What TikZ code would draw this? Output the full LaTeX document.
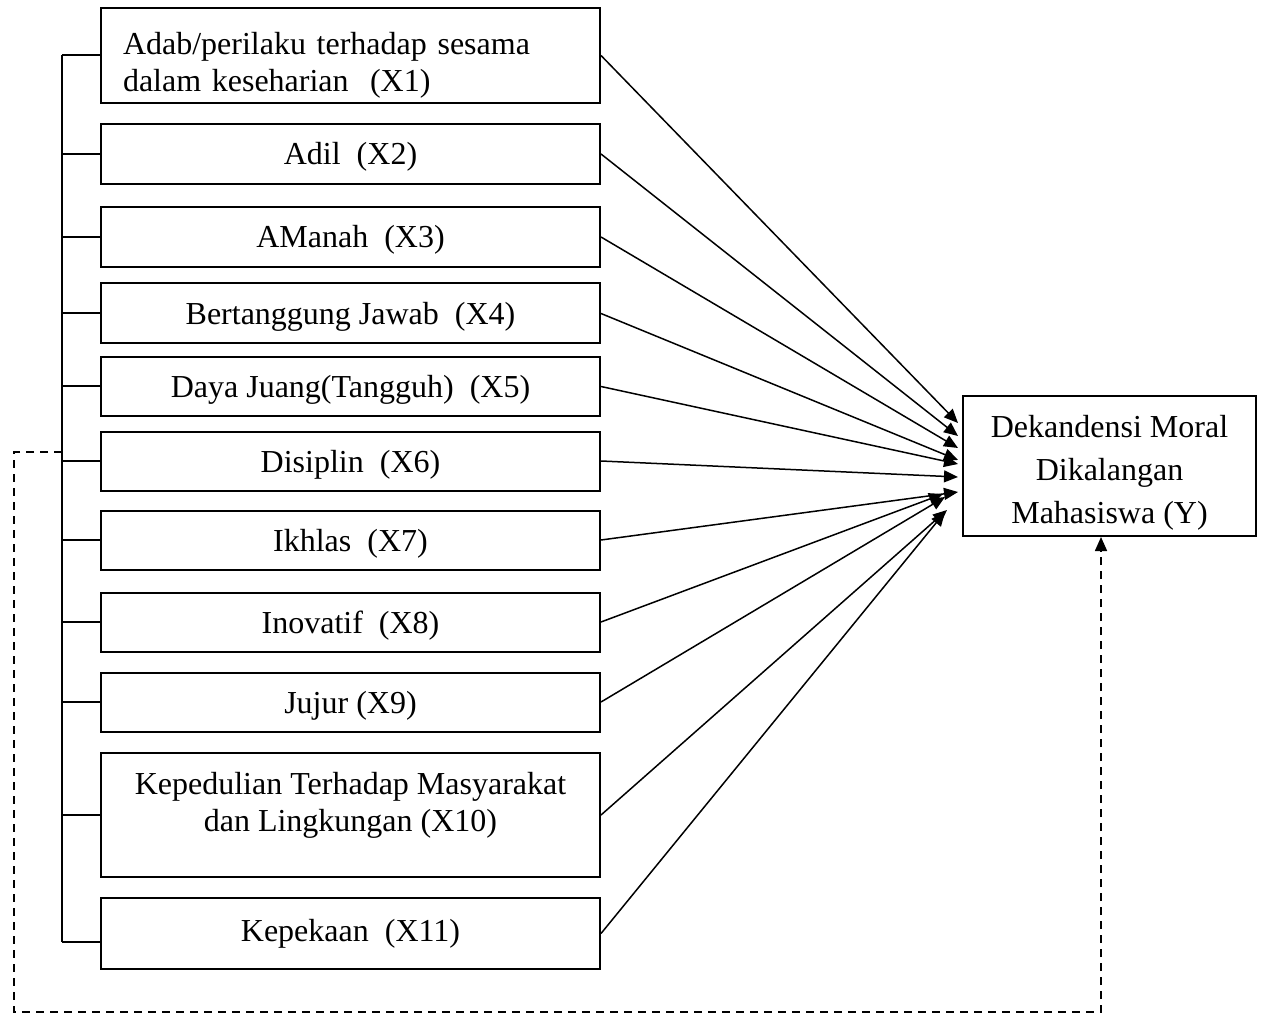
\documentclass[tikz,border=0pt]{standalone}
\usepackage{fontspec}
\setmainfont{Liberation Serif}
\usepackage{tikz}
\usetikzlibrary{calc,arrows.meta}

\begin{document}
\begin{tikzpicture}[x=0.5pt, y=-0.5pt]
\tikzset{varbox/.style={draw,line width=1pt,minimum width=249.5pt,inner xsep=11pt,inner ysep=0pt,align=center,font=\fontsize{16}{18.5}\selectfont},
onebox/.style={varbox,text height=15pt,text depth=4pt},
ybox/.style={draw,line width=1pt,minimum width=146.5pt,minimum height=70pt,inner ysep=0pt,align=center,font=\fontsize{16}{21.5}\selectfont},
link/.style={line width=0.75pt,-{Triangle[length=7pt,width=6pt]}},
bracket/.style={line width=1pt},
feedback/.style={line width=0.8pt,dash pattern=on 4pt off 3pt,-{Triangle[length=7pt,width=6pt]}}}

\useasboundingbox (0,0) rectangle (1261,1015);

\node (x1) [varbox,align=left,text width=227.5pt,minimum height=47.5pt] at (350.5,55.5) {\rule{0pt}{20.5pt}Adab/perilaku terhadap sesama\\dalam keseharian\ \ (X1)};
\node (x2) [onebox,minimum height=30pt] at (350.5,154) {Adil\ \ (X2)};
\node (x3) [onebox,minimum height=30pt] at (350.5,237) {AManah\ \ (X3)};
\node (x4) [onebox,minimum height=30pt] at (350.5,313.5) {Bertanggung Jawab\ \ (X4)};
\node (x5) [onebox,minimum height=29.5pt] at (350.5,386.5) {Daya Juang(Tangguh)\ \ (X5)};
\node (x6) [onebox,minimum height=29.5pt] at (350.5,461) {Disiplin\ \ (X6)};
\node (x7) [onebox,minimum height=29.5pt] at (350.5,540) {Ikhlas\ \ (X7)};
\node (x8) [onebox,minimum height=29.5pt] at (350.5,622) {Inovatif\ \ (X8)};
\node (x9) [onebox,minimum height=29.5pt] at (350.5,702) {Jujur (X9)};
\node (x10) [varbox,minimum height=62pt] at (350.5,815) {Kepedulian Terhadap Masyarakat\\dan Lingkungan (X10)\rule[-13.5pt]{0pt}{13.5pt}};
\node (x11) [varbox,minimum height=35.5pt] at (350.5,933.5) {Kepekaan\ \ (X11)};

\node (ybox) [ybox] at (1109.5,466) {\rule{0pt}{17.5pt}Dekandensi Moral\\Dikalangan\\Mahasiswa (Y)};

%% Bracket on the left
\coordinate (bustop) at (62,55.5);
\coordinate (busbot) at (62,942);
\draw[bracket] (bustop) -- (busbot);
\foreach \u in {x1,x2,x3,x4,x5,x6,x7,x8,x9,x10} \draw[bracket] (\u.west) -- (\u.west -| bustop);
\draw[bracket] (busbot) -- (busbot -| x11.west);

%% Arrows into Y
\foreach \u/\dx/\dy in {x1/-4/-43, x2/-4/-30, x3/-4/-18, x4/-4/-6, x5/-4/-2, x6/-4/11, x7/-4/26, x8/-19/28, x9/-17/31, x10/-15/44, x11/-17/46}
  \draw[link] (\u.east) -- ($(ybox.west)+(\dx,\dy)$);

%% Dashed feedback line
\coordinate (fbstart) at (62,452);
\draw[feedback] (fbstart) -| (14,1012) -| ($(ybox.south)+(-8.5,0)$);

\end{tikzpicture}
\end{document}
